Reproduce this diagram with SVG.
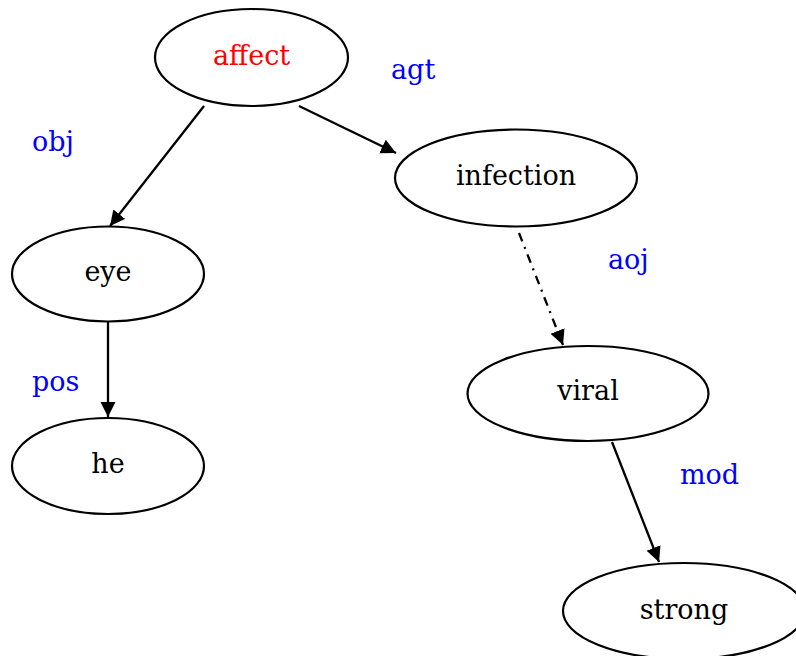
<svg xmlns="http://www.w3.org/2000/svg" width="796" height="656" viewBox="0 0 796 656">
  <style>
    .node ellipse { fill: #ffffff; stroke: #000000; stroke-width: 2.2; }
    .node text { font-family: "DejaVu Serif", "Liberation Serif", serif; font-size: 27px; fill: #000000; text-anchor: middle; }
    .node text.root { fill: #ff0000; }
    .edge { stroke: #000000; stroke-width: 2.3; fill: none; marker-end: url(#arrow); }
    .edge.dashdot { stroke-dasharray: 9 6 2 6; }
    .label { font-family: "DejaVu Serif", "Liberation Serif", serif; font-size: 27px; fill: #0000ff; }
  </style>
  <defs>
    <marker id="arrow" markerUnits="userSpaceOnUse" markerWidth="18" markerHeight="16" refX="15" refY="7.5" orient="auto">
      <path d="M0,0 L15,7.5 L0,15 Z" fill="#000000"/>
    </marker>
  </defs>
  <rect width="796" height="656" fill="#ffffff"/>

  <!-- connectors -->
  <g id="edges">
    <line class="edge" x1="204" y1="106" x2="110" y2="226"/>
    <line class="edge" x1="299" y1="106" x2="396" y2="153"/>
    <line class="edge dashdot" x1="519" y1="233" x2="563" y2="345"/>
    <line class="edge" x1="108" y1="322" x2="108" y2="417"/>
    <line class="edge" x1="612" y1="442" x2="659" y2="562"/>
  </g>

  <!-- edge labels -->
  <g id="edge-labels">
    <text class="label" x="391" y="79">agt</text>
    <text class="label" x="32" y="151">obj</text>
    <text class="label" x="608" y="269">aoj</text>
    <text class="label" x="32" y="391">pos</text>
    <text class="label" x="680" y="484">mod</text>
  </g>

  <!-- nodes -->
  <g id="affect" class="node">
    <ellipse cx="251.5" cy="57.5" rx="96.5" ry="48.5"/>
    <text class="root" x="251.5" y="65">affect</text>
  </g>
  <g id="infection" class="node">
    <ellipse cx="516" cy="178" rx="121" ry="48.5"/>
    <text x="516" y="185">infection</text>
  </g>
  <g id="eye" class="node">
    <ellipse cx="108" cy="274" rx="96" ry="47.5"/>
    <text x="108" y="281">eye</text>
  </g>
  <g id="he" class="node">
    <ellipse cx="108" cy="466" rx="96" ry="48"/>
    <text x="108" y="473">he</text>
  </g>
  <g id="viral" class="node">
    <ellipse cx="588" cy="393.5" rx="120.5" ry="47.5"/>
    <text x="588" y="400">viral</text>
  </g>
  <g id="strong" class="node">
    <ellipse cx="684" cy="611" rx="121" ry="48"/>
    <text x="684" y="619">strong</text>
  </g>
</svg>
